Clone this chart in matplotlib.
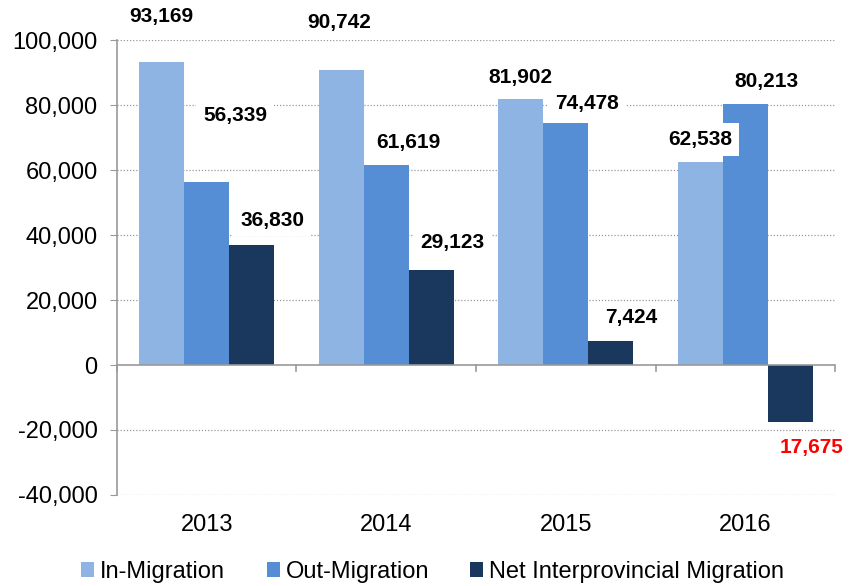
import matplotlib.pyplot as plt
from matplotlib.ticker import FuncFormatter, MultipleLocator
import numpy as np

plt.rcParams['font.family'] = ['Liberation Sans', 'DejaVu Sans']

years = ['2013', '2014', '2015', '2016']
in_migration = [93169, 90742, 81902, 62538]
out_migration = [56339, 61619, 74478, 80213]
net_migration = [36830, 29123, 7424, -17675]
series_names = ['In-Migration', 'Out-Migration', 'Net Interprovincial Migration']

colors = ['#8EB4E3', '#558ED5', '#1A375E']

# label anchor points (data coords), hand placed like the original
label_pos = [
    [(-0.255, 107100), (0.157, 76900), (0.364, 44600)],
    [(0.737, 105500), (1.121, 68600), (1.366, 37800)],
    [(1.745, 88600), (2.118, 80600), (2.364, 14500)],
    [(2.748, 69500), (3.116, 87100), (3.372, -25500)],
]

fig = plt.figure(figsize=(8.62, 5.86), dpi=100)
ax = fig.add_axes([0.1357, 0.1553, 0.8330, 0.7764])

x = np.arange(len(years))
w = 0.25
all_series = [in_migration, out_migration, net_migration]
for idx, vals in enumerate(all_series):
    ax.bar(x + (idx - 1) * w, vals, width=w, color=colors[idx],
           label=series_names[idx], zorder=3)

for i in range(len(years)):
    for idx, vals in enumerate(all_series):
        v = vals[i]
        px, py = label_pos[i][idx]
        col = 'red' if v < 0 else 'black'
        ax.text(px, py, f'{abs(v):,}', ha='center', va='center',
                fontsize=15, fontweight='bold', color=col, zorder=5,
                bbox=dict(facecolor='white', edgecolor='none', pad=5) if v > 0 else None,
                clip_on=False)

ax.set_xlim(-0.5, 3.5)
ax.set_ylim(-40000, 100000)
ax.yaxis.set_major_locator(MultipleLocator(20000))
ax.yaxis.set_major_formatter(FuncFormatter(lambda v, p: f'{int(v):,}'))

for yv in range(-40000, 100001, 20000):
    if yv != 0:
        ax.axhline(yv, color='#999999', linestyle=(0, (1, 1.5)), linewidth=0.9, zorder=1)
ax.axhline(0, color='#999999', linewidth=1.2, zorder=4)

for s in ['top', 'right', 'bottom']:
    ax.spines[s].set_visible(False)
ax.spines['left'].set_color('#999999')
ax.spines['left'].set_linewidth(1.2)

ax.set_xticks(x)
ax.set_xticklabels(years)
ax.tick_params(axis='x', length=0, labelsize=17, pad=13.5)
ax.tick_params(axis='y', direction='out', length=5, color='#999999', labelsize=17, pad=9)

# category separator ticks on zero line
for b in np.arange(-0.5, 3.6, 1.0):
    ax.plot([b, b], [0, -1800], color='#999999', linewidth=1.2, zorder=4, clip_on=False)

fig.legend(loc='center', bbox_to_anchor=(0.502, 0.024), ncol=3, frameon=False,
           fontsize=17, handlelength=0.55, handleheight=0.55, handletextpad=0.25,
           columnspacing=1.75)

plt.savefig('out.png', dpi=100)
